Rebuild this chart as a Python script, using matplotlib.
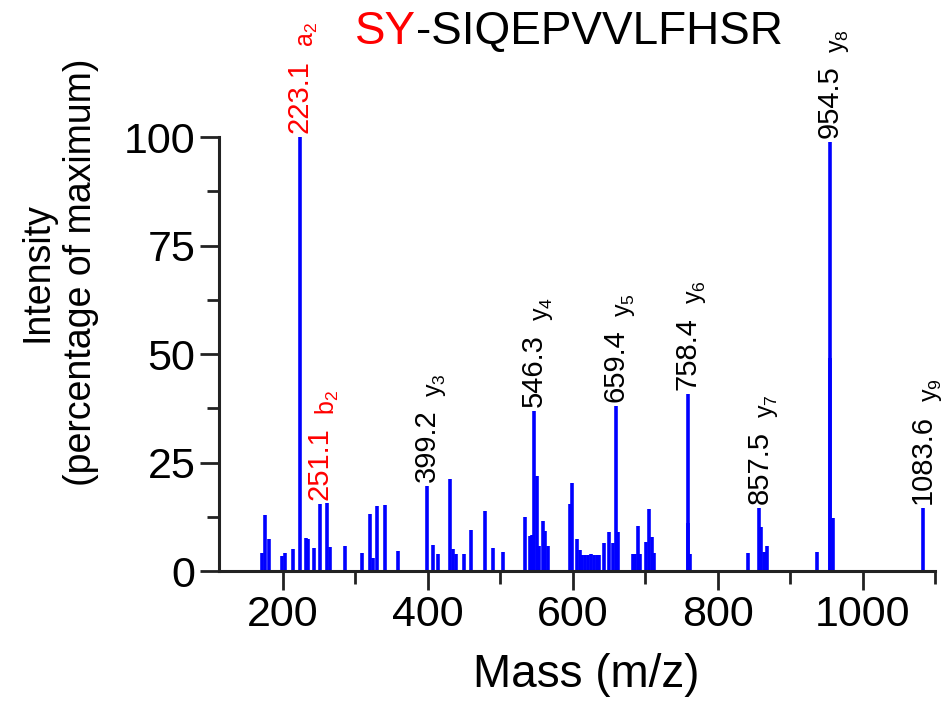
import matplotlib
matplotlib.use('Agg')
import matplotlib.pyplot as plt
from matplotlib.ticker import MultipleLocator

plt.rcParams['font.family'] = ['Liberation Sans', 'DejaVu Sans']

# peak list (m/z, relative intensity)
mz = [171.5, 175.5, 180.5, 198.5, 202.5, 214.5, 223.1, 231.5, 234.5, 242.5,
      251.1, 261.5, 264.5, 286.5, 309.5, 320.5, 324.5, 330.5, 340.5, 359.5,
      399.2, 407.5, 413.5, 430.5, 435.5, 439.5, 450.5, 459.5, 478.5, 490.5,
      503.5, 534.5, 541.5, 544.5, 546.3, 550.5, 553.5, 558.5, 561.5, 565.5,
      596.5, 599.5, 606.5, 609.5, 613.5, 617.5, 621.5, 625.5, 629.5, 633.5,
      636.5, 643.5, 650.5, 655.5, 659.4, 662.5, 683.5, 686.5, 689.5, 692.5,
      700.5, 705.5, 709.5, 711.5, 758.4, 759.5, 762.5, 841.5, 857.5, 859.5,
      863.5, 866.5, 868.5, 937.5, 954.5, 955.5, 958.5, 1083.6]
intensity = [4.1, 12.9, 7.4, 3.5, 4.1, 5.0, 100, 7.6, 7.3, 5.3,
             15.4, 15.7, 5.5, 5.8, 4.1, 13.1, 3.0, 15.0, 15.2, 4.6,
             19.6, 6.0, 3.9, 21.2, 5.1, 4.0, 4.0, 9.4, 13.8, 5.3,
             4.4, 12.4, 8.0, 8.2, 36.9, 21.9, 5.7, 11.5, 9.2, 5.7,
             15.4, 20.3, 7.4, 4.8, 3.7, 3.8, 3.7, 3.9, 3.7, 3.8,
             3.7, 6.4, 9.0, 6.4, 38.0, 9.1, 3.9, 3.9, 10.3, 3.9,
             6.6, 14.2, 7.9, 4.1, 40.8, 11.0, 3.9, 4.1, 14.5, 10.1,
             4.4, 4.4, 5.7, 4.4, 98.8, 49.0, 12.2, 14.5]

# annotated fragment ions
lab_mz = [223.1, 251.1, 399.2, 546.3, 659.4, 758.4, 857.5, 954.5, 1083.6]
lab_h = [100, 15.4, 19.6, 36.9, 38.0, 40.8, 14.5, 98.8, 14.5]
lab_ion = ['a', 'b', 'y', 'y', 'y', 'y', 'y', 'y', 'y']
lab_sub = ['2', '2', '3', '4', '5', '6', '7', '8', '9']
lab_col = ['red', 'red', 'black', 'black', 'black', 'black', 'black', 'black', 'black']

fig = plt.figure(figsize=(9.46, 7.06), dpi=100)
ax = fig.add_axes([0.2315, 0.1912, 0.757, 0.6147])

ax.vlines(mz, 0, intensity, color='#0000ff', lw=2.6)

for x, h, ion, sub, col in zip(lab_mz, lab_h, lab_ion, lab_sub, lab_col):
    t = ax.annotate('%.1f' % x, xy=(x, h), xytext=(0, 3), textcoords='offset points',
                    rotation=90, ha='center', va='bottom', fontsize=21, color=col)
    ax.annotate(r'$\mathregular{%s_%s}$' % (ion, sub), xy=(1, 1), xycoords=t,
                xytext=(5, 9), textcoords='offset points', rotation=90,
                ha='right', va='bottom', fontsize=18, color=col)

ax.set_xlim(112, 1100)
ax.set_ylim(0, 100)
ax.xaxis.set_major_locator(MultipleLocator(200))
ax.xaxis.set_minor_locator(MultipleLocator(100))
ax.yaxis.set_major_locator(MultipleLocator(25))
ax.yaxis.set_minor_locator(MultipleLocator(12.5))

for s in ['top', 'right']:
    ax.spines[s].set_visible(False)
for s in ['left', 'bottom']:
    ax.spines[s].set_linewidth(2.2)
    ax.spines[s].set_color('#222222')

ax.tick_params(which='major', length=14, width=2, labelsize=31, pad=3, color='#222222')
ax.tick_params(which='minor', length=9, width=2, color='#222222')

ax.set_xlabel('Mass (m/z)', fontsize=33, va='top')
ax.xaxis.set_label_coords(0.513, -0.19)
ax.set_ylabel('Intensity\n(percentage of maximum)', fontsize=27, linespacing=1.3)
ax.yaxis.set_label_coords(-0.167, 0.689)

# title with coloured prefix
t1 = fig.text(0.375, 0.937, 'SY', color='red', fontsize=33, va='baseline')
ax.annotate('-SIQEPVVLFHSR', xy=(1, 0), xycoords=t1, ha='left', va='bottom',
            fontsize=33, color='black')

fig.savefig('out.png', dpi=100)
